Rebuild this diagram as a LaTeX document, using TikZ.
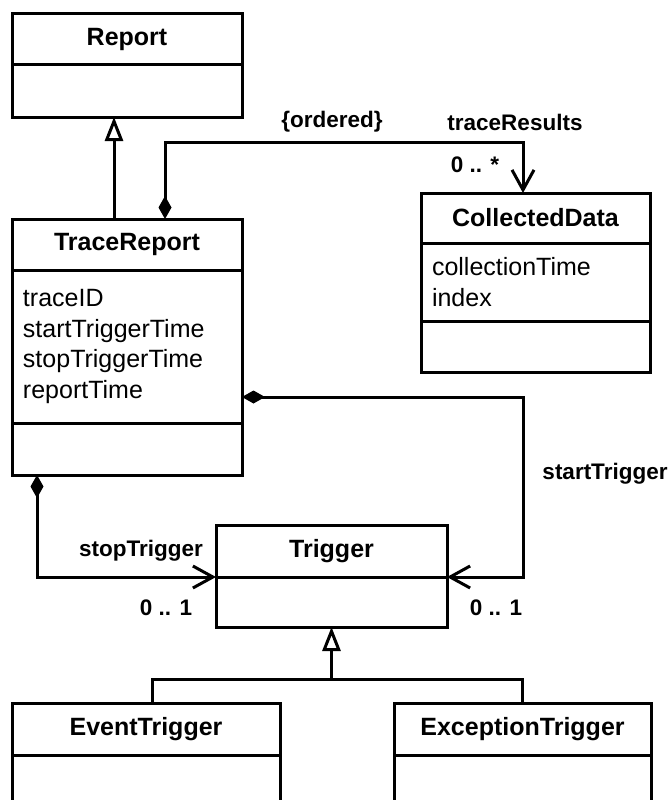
\documentclass[tikz,border=0pt]{standalone}
\usepackage{fontspec}
\setmainfont{Liberation Sans}
\usetikzlibrary{positioning,arrows.meta}

\tikzset{
  box/.style={draw, line width=3pt, outer sep=0pt, inner sep=0pt},
  classname/.style={box, font=\fontsize{25}{30}\selectfont\bfseries},
  attrs/.style={box, inner xsep=11pt, align=left, font=\fontsize{25}{30.5}\selectfont},
  role/.style={font=\fontsize{22.5}{27}\selectfont\bfseries, inner sep=0pt},
  link/.style={line width=3pt},
  gen/.style={link, -{Triangle[open, length=24pt, width=18pt]}},
  comp/.style={link, {Diamond[length=23pt, width=13pt]}-{Straight Barb[length=20pt, width=22pt]}},
}

\begin{document}
\begin{tikzpicture}[x=1pt, y=-1pt]
    \useasboundingbox (0,0) rectangle (670,800);

    \node[classname, minimum width=230pt, minimum height=51pt] (report) at (127,39.5) {Report};
    \node[box, minimum width=230pt, minimum height=52pt, below=0pt of report] (reportops) {};

    \node[classname, minimum width=230pt, minimum height=51pt] (trace) at (127,244.5) {TraceReport};
    \node[attrs, text width=208pt, minimum height=153pt, below=0pt of trace] (traceattr) {traceID\\startTriggerTime\\stopTriggerTime\\reportTime};
    \node[box, minimum width=230pt, minimum height=52pt, below=0pt of traceattr] (traceops) {};

    \node[classname, minimum width=229pt, minimum height=50pt] (collected) at (535.5,218) {CollectedData};
    \node[attrs, text width=207pt, minimum height=78pt, below=0pt of collected] (collattr) {collectionTime\\index};
    \node[box, minimum width=229pt, minimum height=51pt, below=0pt of collattr] (collops) {};

    \node[classname, minimum width=231pt, minimum height=52pt] (trig) at (331.5,551) {Trigger};
    \node[box, minimum width=231pt, minimum height=50pt, below=0pt of trig] (trigops) {};

    \node[classname, minimum width=268pt, minimum height=52pt] (event) at (146,729) {EventTrigger};
    \node[box, minimum width=268pt, minimum height=52pt, below=0pt of event] (eventops) {};

    \node[classname, minimum width=257pt, minimum height=52pt] (exception) at (522.5,729) {ExceptionTrigger};
    \node[box, minimum width=257pt, minimum height=52pt, below=0pt of exception] (exceptionops) {};

    \node[role] (ordered) at (332,122) {\{ordered\}};
    \node[role] (traceresults) at (515,122) {traceResults};
    \node[role] (datamult) at (475,165) {0 .. *};
    \node[role, anchor=east] (stoprole) at (203,551) {stopTrigger};
    \node[role] (stopmult) at (166,608) {0 .. 1};
    \node[role] (startrole) at (605,474) {startTrigger};
    \node[role] (startmult) at (496,608) {0 .. 1};

    \coordinate (trigbus) at (331.5,679);

    \draw[gen] ([xshift=-13pt]trace.north) -- ([xshift=-13pt]reportops.south);
    \draw[comp] ([xshift=38pt]trace.north) -- ++(0,-77) -| ([xshift=-12.5pt]collected.north);
    \draw[comp] ([yshift=-50.5pt]traceattr.east) -- ++(281,0) |- (trig.south east);
    \draw[comp] ([xshift=-90pt]traceops.south) |- (trig.south west);
    \draw[gen] (trigbus) -- (trigops.south);
    \draw[link] ([xshift=6pt]event.north) |- (trigbus) -| (exception.north);
\end{tikzpicture}
\end{document}
